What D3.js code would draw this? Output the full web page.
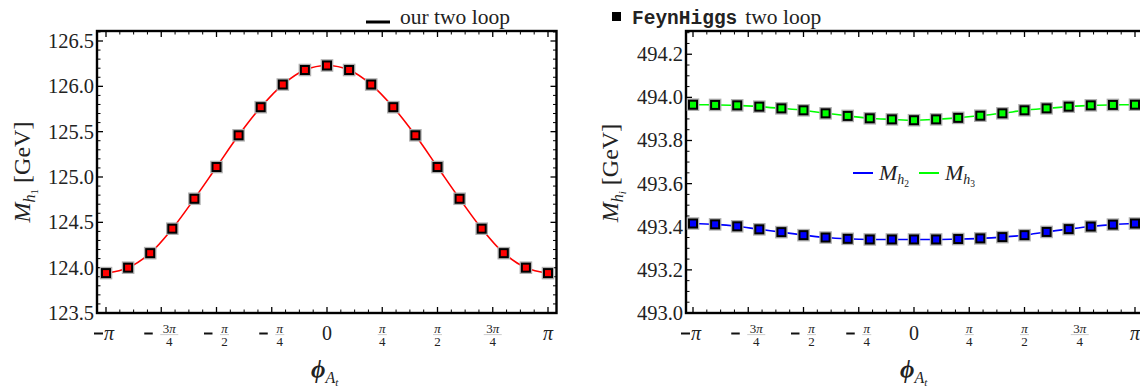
<!DOCTYPE html>
<html><head><meta charset="utf-8">
<script src="https://cdn.jsdelivr.net/npm/d3@7"></script>
<style>
html,body{margin:0;padding:0;background:#fff;}
svg{display:block;}
text{font-family:"Liberation Serif","Times New Roman",serif;fill:#222;}
</style></head>
<body><svg id="c" width="1140" height="392"></svg>
<script>
// ---- data ----
const phiOverPi = [-1,-0.9,-0.8,-0.7,-0.6,-0.5,-0.4,-0.3,-0.2,-0.1,0,0.1,0.2,0.3,0.4,0.5,0.6,0.7,0.8,0.9,1];
const mh1 = [123.94,124.00,124.16,124.43,124.76,125.11,125.46,125.77,126.02,126.18,126.23,126.18,126.02,125.77,125.46,125.11,124.76,124.43,124.16,124.00,123.94];
const mh2 = [493.415,493.411,493.402,493.388,493.375,493.361,493.350,493.344,493.341,493.341,493.341,493.341,493.343,493.346,493.352,493.361,493.376,493.389,493.401,493.410,493.415];
const mh3 = [493.966,493.965,493.963,493.957,493.949,493.940,493.926,493.914,493.903,493.898,493.894,493.898,493.905,493.915,493.926,493.940,493.949,493.957,493.963,493.965,493.966];
const xTickValues = [-1,-0.75,-0.5,-0.25,0,0.25,0.5,0.75,1];
const xTickLabels = ["−π","−3π/4","−π/2","−π/4","0","π/4","π/2","3π/4","π"];
const yTicksLeft = [123.5,124.0,124.5,125.0,125.5,126.0,126.5];
const yTicksRight = [493.0,493.2,493.4,493.6,493.8,494.0,494.2];

const svg = d3.select("#c");
const PI = Math.PI;
const SERIF = "'Liberation Serif','Times New Roman',serif";

function piText(sel, str){
  // write a string, setting π in italic
  const parts = str.split("π");
  parts.forEach((p,i)=>{
    if(p) sel.append("tspan").text(p);
    if(i<parts.length-1) sel.append("tspan").attr("font-style","italic").text("π");
  });
}

function panel(o){
  const g = svg.append("g");
  const x = d3.scaleLinear().domain([-PI,PI]).range(o.xr);
  const y = d3.scaleLinear().domain(o.yd).range([313,31]);
  const L=o.frame[0], R=o.frame[1], T=31, B=313;
  const minorX = d3.range(-16,17).map(k=>k*PI/16).filter(v=>Math.abs(Math.round(v/(PI/4))*(PI/4)-v)>1e-9);
  const majorX = xTickValues.map(v=>v*PI);
  const [y0,y1]=o.yd;
  const minorY=[], majorY=o.yTicks;
  for(let v=Math.ceil(y0/o.yMinor-1e-9)*o.yMinor; v<=y1+1e-9; v+=o.yMinor){
    if(!majorY.some(m=>Math.abs(m-v)<1e-6)) minorY.push(v);
  }
  const tk = g.append("g").attr("stroke","#000");
  majorX.forEach(v=>{
    tk.append("line").attr("x1",x(v)).attr("x2",x(v)).attr("y1",B).attr("y2",B-6).attr("stroke-width",1.3);
    tk.append("line").attr("x1",x(v)).attr("x2",x(v)).attr("y1",T).attr("y2",T+6).attr("stroke-width",1.3);
  });
  minorX.forEach(v=>{
    tk.append("line").attr("x1",x(v)).attr("x2",x(v)).attr("y1",B).attr("y2",B-3.5).attr("stroke-width",1);
    tk.append("line").attr("x1",x(v)).attr("x2",x(v)).attr("y1",T).attr("y2",T+3.5).attr("stroke-width",1);
  });
  majorY.forEach(v=>{
    tk.append("line").attr("x1",L).attr("x2",L+6).attr("y1",y(v)).attr("y2",y(v)).attr("stroke-width",1.3);
    tk.append("line").attr("x1",R).attr("x2",R-6).attr("y1",y(v)).attr("y2",y(v)).attr("stroke-width",1.3);
  });
  minorY.forEach(v=>{
    tk.append("line").attr("x1",L).attr("x2",L+3.5).attr("y1",y(v)).attr("y2",y(v)).attr("stroke-width",1);
    tk.append("line").attr("x1",R).attr("x2",R-3.5).attr("y1",y(v)).attr("y2",y(v)).attr("stroke-width",1);
  });
  g.append("rect").attr("x",L).attr("y",T).attr("width",R-L).attr("height",B-T)
    .attr("fill","none").attr("stroke","#000").attr("stroke-width",2.4);
  // y tick labels
  majorY.forEach(v=>{
    g.append("text").attr("x",L-3).attr("y",y(v)+7).attr("text-anchor","end")
      .attr("font-family",SERIF).attr("font-size",20.5).text(v.toFixed(1));
  });
  // x tick labels
  xTickValues.forEach((v,i)=>{
    const lab = xTickLabels[i];
    const cx = x(v*PI);
    if(lab.indexOf("/")<0){
      if(lab[0]==="−"){
        g.append("line").attr("x1",cx-12).attr("x2",cx-3).attr("y1",333.5).attr("y2",333.5)
          .attr("stroke","#111").attr("stroke-width",2);
        g.append("text").attr("x",cx+3).attr("y",340).attr("text-anchor","middle")
          .attr("font-family",SERIF).attr("font-size",20).attr("font-style","italic").text("π");
      } else {
        const t = g.append("text").attr("x",cx).attr("y",340).attr("text-anchor","middle")
          .attr("font-family",SERIF).attr("font-size",20);
        piText(t, lab);
      }
    } else {
      const neg = lab[0]==="−";
      const body = neg?lab.slice(1):lab;
      const [num,den] = body.split("/");
      const fw = num.length>1?18:9;
      const total = neg? 8+8+fw : fw;
      let fx = cx - total/2 + (neg?16:0);
      if(neg){
        g.append("line").attr("x1",cx-total/2).attr("x2",cx-total/2+8.5).attr("y1",333.5).attr("y2",333.5)
          .attr("stroke","#111").attr("stroke-width",2);
      }
      const fc = fx+fw/2;
      const nt = g.append("text").attr("x",fc).attr("y",332.5).attr("text-anchor","middle").attr("font-family",SERIF).attr("font-size",13);
      piText(nt, num);
      g.append("line").attr("x1",fx).attr("x2",fx+fw).attr("y1",334.6).attr("y2",334.6).attr("stroke","#aaa").attr("stroke-width",0.6);
      g.append("text").attr("x",fc).attr("y",345.5).attr("text-anchor","middle").attr("font-family",SERIF).attr("font-size",13).text(den);
    }
  });
  // x title
  const xt = g.append("text").attr("x",o.xTitleX).attr("y",378).attr("font-size",25);
  xt.append("tspan").attr("font-style","italic").attr("font-weight","bold").text("ϕ");
  xt.append("tspan").attr("font-size",16).attr("font-style","italic").attr("dy",5).text("A");
  xt.append("tspan").attr("font-size",11).attr("font-style","italic").attr("dy",3).text("t");
  // y title
  const yt = g.append("text").attr("transform",`translate(${o.yTitleX},${o.yTitleY}) rotate(-90)`)
    .attr("text-anchor","middle").attr("font-size",24);
  yt.append("tspan").attr("font-style","italic").text("M");
  yt.append("tspan").attr("font-style","italic").attr("font-size",16).attr("dy",5).text("h");
  yt.append("tspan").attr("font-style",o.sub==="i"?"italic":"normal").attr("font-size",11).attr("dy",3).text(o.sub);
  yt.append("tspan").attr("dy",-8).text(" [GeV]");
  // series
  const line = d3.line().x((d,i)=>x(phiOverPi[i]*PI)).y(d=>y(d)).curve(d3.curveCatmullRom.alpha(0.5));
  o.series.forEach(s=>{
    g.append("path").attr("d",line(s.vals)).attr("fill","none").attr("stroke",s.line).attr("stroke-width",1.6);
  });
  o.series.forEach(s=>{
    const m = g.append("g");
    m.selectAll("rect.h").data(s.vals).join("rect").attr("class","h")
      .attr("x",(d,i)=>x(phiOverPi[i]*PI)-6.3).attr("y",d=>y(d)-6.3).attr("width",12.6).attr("height",12.6)
      .attr("fill","#b0b0b0");
    m.selectAll("rect.m").data(s.vals).join("rect").attr("class","m")
      .attr("x",(d,i)=>x(phiOverPi[i]*PI)-4).attr("y",d=>y(d)-4).attr("width",8).attr("height",8)
      .attr("fill",s.fill).attr("stroke","#000").attr("stroke-width",2);
  });
}

panel({id:1, xr:[106,548], frame:[97,556.5], yd:[123.5,126.5+10/90.7], yTicks:yTicksLeft, yMinor:0.1,
  xTitleX:311, yTitleX:30, yTitleY:172, sub:"1",
  series:[{vals:mh1, line:"#ff0000", fill:"#ff0000"}]});
panel({id:2, xr:[693,1135], frame:[686,1152], yd:[493.0,494.0+66.3/215.4], yTicks:yTicksRight, yMinor:0.05,
  xTitleX:900, yTitleX:618, yTitleY:173, sub:"i",
  series:[{vals:mh2, line:"#0000ff", fill:"#0000ff"},{vals:mh3, line:"#00ff00", fill:"#00ff00"}]});

// top legends
svg.append("line").attr("x1",366).attr("x2",390).attr("y1",22).attr("y2",22).attr("stroke","#000").attr("stroke-width",3);
svg.append("text").attr("x",400).attr("y",24).attr("font-size",21.5).text("our two loop");
svg.append("rect").attr("x",612).attr("y",12).attr("width",9).attr("height",9).attr("fill","#000");
const fl = svg.append("text").attr("x",632).attr("y",24).attr("font-size",21.5);
fl.append("tspan").attr("font-family","'Liberation Mono',monospace").attr("font-weight","bold").attr("font-size",19.5).text("FeynHiggs");
fl.append("tspan").attr("dx",8).text("two loop");

// inner legend (right panel)
const il = [{c:"#0000ff", sub:"2", x:853},{c:"#00ff00", sub:"3", x:919}];
il.forEach(d=>{
  svg.append("line").attr("x1",d.x).attr("x2",d.x+20).attr("y1",173).attr("y2",173).attr("stroke",d.c).attr("stroke-width",2);
  const t = svg.append("text").attr("x",d.x+26).attr("y",180).attr("font-size",22);
  t.append("tspan").attr("font-style","italic").text("M");
  t.append("tspan").attr("font-style","italic").attr("font-size",14).attr("dy",4).text("h");
  t.append("tspan").attr("font-size",9.5).attr("dy",3).text(d.sub);
});
</script></body></html>
